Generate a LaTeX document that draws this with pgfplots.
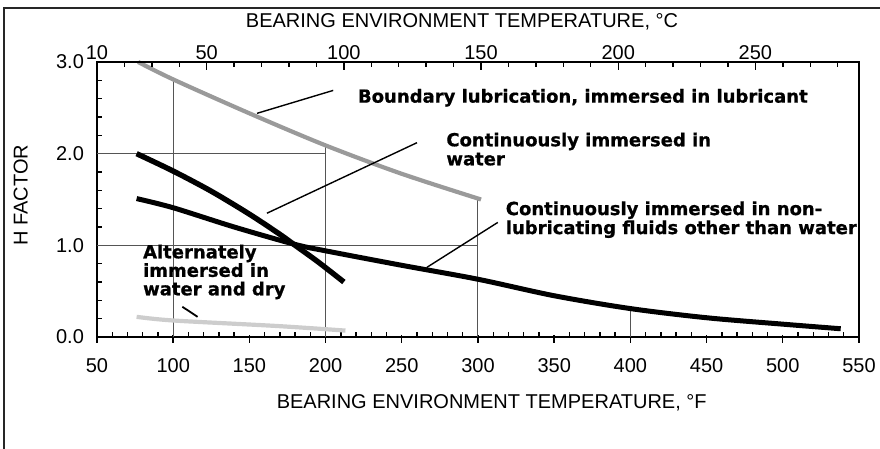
\documentclass[border=0pt]{standalone}
\usepackage{fontspec}
\setmainfont{Liberation Sans}
\newfontfamily\annfont{DejaVu Sans Bold}[FakeBold=0.8]
\usepackage{pgfplots}
\pgfplotsset{compat=1.18}
\definecolor{boundgray}{HTML}{9A9A9A}
\definecolor{altgray}{HTML}{CDCDCD}
\definecolor{gridgray}{HTML}{555555}

\begin{document}
\begin{tikzpicture}
% 1 px of the reference = 0.5pt; axis box is 762 x 275 px
\useasboundingbox (-48.5pt,-56pt) rectangle (391.5pt,168.5pt);
\pgfplotsset{
    hcommon/.style={
        scale only axis,
        width=381pt,
        height=137.5pt,
        at={(0,0)},
        anchor=south west,
        ymin=0, ymax=3,
        axis line style={line width=0.8pt},
        tick style={line width=0.7pt, black},
        tick align=inside,
        major tick length=4pt,
        minor tick length=2.5pt,
        tick label style={font=\fontsize{10}{12}\selectfont},
        label style={font=\fontsize{10}{12}\selectfont},
        /pgf/number format/assume math mode=true,
    }
}
\begin{axis}[
    hcommon,
    xmin=50, xmax=550,
    xtick={50,100,...,550},
    minor x tick num=4,
    ytick={0,1,2,3},
    minor y tick num=4,
    xtick pos=bottom,
    ytick pos=left,
    yticklabel style={/pgf/number format/fixed,
        /pgf/number format/fixed zerofill,
        /pgf/number format/precision=1, xshift=-3pt},
    xticklabel style={yshift=-7pt},
    major x tick style={yshift=-3pt},
    xlabel={BEARING ENVIRONMENT TEMPERATURE, °F},
    xlabel style={at={(axis description cs:0.518,0)}, anchor=center, yshift=-33pt},
    ylabel={H FACTOR},
    ylabel style={at={(axis description cs:-0.1,0.516)}, anchor=center},
    clip=false,
]
% partial grid lines dropped from the curves
\draw[gridgray, line width=0.5pt] (axis cs:100,0) -- (axis cs:100,2.81);
\draw[gridgray, line width=0.5pt] (axis cs:200,0) -- (axis cs:200,2.08);
\draw[gridgray, line width=0.5pt] (axis cs:300,0) -- (axis cs:300,1.51);
\draw[gridgray, line width=0.5pt] (axis cs:400,0) -- (axis cs:400,0.31);
\draw[gridgray, line width=0.5pt] (axis cs:50,2) -- (axis cs:200,2);
\draw[gridgray, line width=0.5pt] (axis cs:50,1) -- (axis cs:300,1);

% boundary lubrication, immersed in lubricant
\addplot[boundgray, line width=2.1pt, smooth] coordinates {
    (77,3.00) (100,2.81) (150,2.44) (200,2.09) (250,1.78) (302,1.50)
};
% continuously immersed in water
\addplot[black, line width=2.7pt, smooth] coordinates {
    (76,2.00) (100,1.81) (125,1.59) (150,1.34) (170,1.12) (180,1.00) (195,0.82) (212,0.60)
};
% continuously immersed in non-lubricating fluids
\addplot[black, line width=2.5pt, smooth] coordinates {
    (76,1.51) (100,1.41) (140,1.20) (180,1.01) (200,0.94) (249,0.785) (300,0.63)
    (350,0.45) (400,0.31) (450,0.21) (500,0.14) (538,0.09)
};
% alternately immersed in water and dry
\addplot[altgray, line width=2.1pt, smooth] coordinates {
    (76,0.22) (100,0.18) (168,0.12) (213,0.07)
};

% annotations and leader lines
\draw[black, line width=0.7pt] (axis cs:205,2.69) -- (axis cs:155,2.44);
\node[anchor=west, inner sep=0pt, font=\annfont\fontsize{9}{9.5}\selectfont]
    at (axis cs:221,2.61) {Boundary lubrication, immersed in lubricant};
\draw[black, line width=0.7pt] (axis cs:260,2.12) -- (axis cs:161.5,1.35);
\node[anchor=west, inner sep=0pt, align=left, font=\annfont\fontsize{9}{9.5}\selectfont]
    at (axis cs:279,2.05) {Continuously immersed in\\water};
\draw[black, line width=0.7pt] (axis cs:313,1.25) -- (axis cs:266.5,0.76);
\node[anchor=west, inner sep=0pt, align=left, font=\annfont\fontsize{9}{9.5}\selectfont]
    at (axis cs:318,1.28) {Continuously immersed in non-\\lubricating fluids other than water};
\draw[black, line width=0.9pt] (axis cs:106,0.33) -- (axis cs:116,0.22);
\node[anchor=west, inner sep=0pt, align=left, font=\annfont\fontsize{9}{9.25}\selectfont]
    at (axis cs:80,0.71) {Alternately\\immersed in\\water and dry};
\end{axis}

% Celsius scale along the top
\begin{axis}[
    hcommon,
    xmin=10, xmax=287.7778,
    axis x line*=top,
    axis y line=none,
    xtick={10,50,100,150,200,250},
    minor xtick={20,30,...,280},
    xticklabel style={yshift=-2.3pt},
    xlabel={BEARING ENVIRONMENT TEMPERATURE, °C},
    xlabel style={at={(axis description cs:0.479,1)}, anchor=center, yshift=20pt},
]
\addplot[draw=none] coordinates {(10,0) (287,0)};
\end{axis}

% outer frame
\draw[line width=1pt, black!85] (-46.5pt,-60pt) -- (-46.5pt,164.5pt) -- (395pt,164.5pt);
\end{tikzpicture}
\end{document}
